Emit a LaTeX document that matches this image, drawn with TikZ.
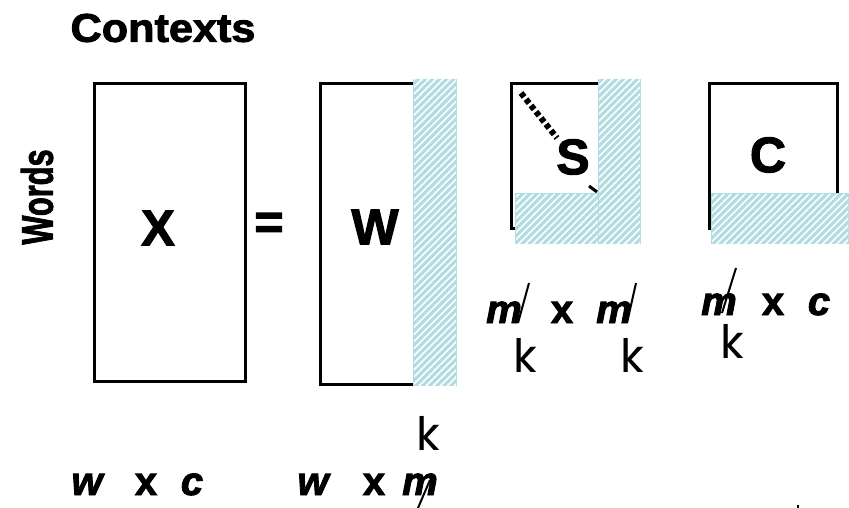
\documentclass[tikz,border=0pt]{standalone}
\usepackage{fontspec}
\setmainfont{Liberation Sans}[BoldFeatures={FakeBold=2.2},BoldItalicFeatures={FakeBold=2.2}]
\newfontfamily\kfont{Poppins}
\usetikzlibrary{patterns.meta}
\definecolor{hatchc}{RGB}{176,220,226}
\definecolor{inkc}{RGB}{0,0,0}
\tikzset{
  mbox/.style={draw=inkc,line width=3pt},
  hatch/.style={fill=hatchc,postaction={pattern={Lines[angle=45,distance=5pt,line width=1.6pt]},pattern color=white},draw=hatchc,line width=1.5pt},
  big/.style={font=\fontsize{50}{50}\selectfont\bfseries,inner sep=0pt},
  lab/.style={font=\fontsize{40}{40}\selectfont\bfseries\itshape,inner sep=0pt,anchor=base},
  labx/.style={font=\fontsize{40}{40}\selectfont\bfseries,inner sep=0pt,anchor=base},
  kl/.style={font=\kfont\fontsize{46}{46}\selectfont,inner sep=0pt},
  slash/.style={draw=inkc,line width=2pt},
}
\begin{document}
\begin{tikzpicture}[x=1pt,y=-1pt]
\useasboundingbox (0,0) rectangle (849,508);
% titles
\node[inner sep=0pt,font=\fontsize{40}{40}\selectfont\bfseries] (ctx) at (163,28) {\scalebox{1.08}[1]{Contexts}};
\node[inner sep=0pt,rotate=90,font=\fontsize{44}{44}\selectfont\bfseries] (words) at (37,197) {\scalebox{0.7}[1]{Words}};
% X matrix
\draw[mbox] (94,84) rectangle (245,381);
\node[big] (X) at (158,228) {X};
\node[big] (eq) at (269,226) {=};
% W matrix
\draw[mbox] (320,84) rectangle (414,384);
\draw[hatch] (414,80) rectangle (456,385);
\node[big] (W) at (375,227) {W};
% S matrix
\draw[mbox] (511,84) rectangle (600,228);
\coordinate (d1) at (521,93);
\coordinate (d2) at (557,138);
\draw[inkc,line width=6pt,dash pattern=on 5pt off 3pt] (d1) -- (d2);
\coordinate (d3) at (589,186);
\coordinate (d4) at (597,192);
\draw[inkc,line width=3pt] (d3) -- (d4);
\draw[hatch] (516,194) rectangle (599,243);
\draw[hatch] (599,80) rectangle (640,243);
\node[big] (S) at (573,157) {S};
% C matrix
\draw[mbox] (709,84) rectangle (837,228);
\draw[hatch] (712,194) rectangle (848,243);
\node[big] (C) at (768,155) {C};
% bottom labels
\node[lab] (w1) at (87,495) {w};
\node[labx] (x1) at (146,495) {x};
\node[lab] (c1) at (192,495) {c};
\node[lab] (w2) at (313,495) {w};
\node[labx] (x2) at (374,495) {x};
\node[lab] (m2) at (420,495) {m};
\coordinate (s1a) at (418,508);
\coordinate (s1b) at (430,480);
\draw[slash] (s1a) -- (s1b);
\node[kl] (k1) at (428,433) {k};
% S labels
\node[lab] (m3) at (504,323) {m};
\node[labx] (x3) at (562,323) {x};
\node[lab] (m4) at (614,323) {m};
\coordinate (s2a) at (518,323);
\coordinate (s2b) at (529,283);
\draw[slash] (s2a) -- (s2b);
\coordinate (s3a) at (627,323);
\coordinate (s3b) at (636,283);
\draw[slash] (s3a) -- (s3b);
\node[kl] (k2) at (525,355) {k};
\node[kl] (k3) at (632,355) {k};
% C labels
\node[lab] (m5) at (719,315) {m};
\node[labx] (x5) at (773,315) {x};
\node[lab] (c5) at (819,315) {c};
\coordinate (s4a) at (722,313);
\coordinate (s4b) at (736,268);
\draw[slash] (s4a) -- (s4b);
\node[kl] (k4) at (732,341) {k};
% stray dot
\fill[inkc] (797,505) rectangle (799,508);
\end{tikzpicture}
\end{document}
